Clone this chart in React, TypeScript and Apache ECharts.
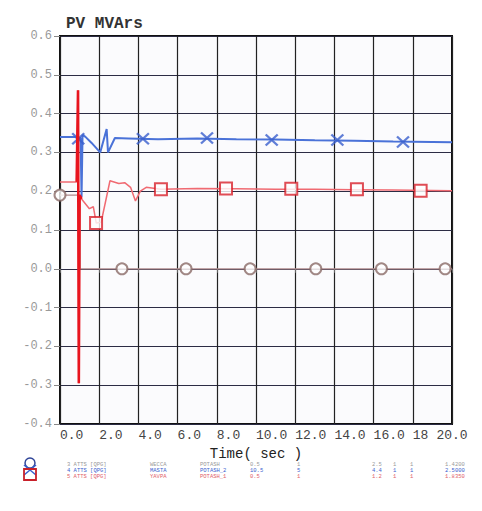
import React, { useEffect, useRef } from "react";
import * as echarts from "echarts";

// ---- data ----
const xTicks = [0, 2, 4, 6, 8, 10, 12, 14, 16, 18, 20];

// channel 1 (circle markers, grey)
const circleLineT = [0, 1.0, 1.03, 20];
const circleLineV = [0.19, 0.19, 0.0, 0.0];
const circleMarkT = [0, 3.16, 6.43, 9.7, 13.05, 16.4, 19.65];
const circleMarkV = [0.19, 0.0, 0.0, 0.0, 0.0, 0.0, 0.0];

// channel 2 (X markers, blue)
const blueT = [0, 0.75, 0.95, 1.05, 1.1, 1.15, 1.3, 1.6, 2.05, 2.38, 2.45, 2.8, 3.5, 5, 7, 9, 11, 13, 15, 17, 20];
const blueV = [0.34, 0.34, 0.335, 0.338, 0.185, 0.345, 0.34, 0.325, 0.3, 0.36, 0.3, 0.337, 0.336, 0.334, 0.336, 0.334, 0.333, 0.331, 0.33, 0.328, 0.326];
const crossMarkT = [0.93, 4.23, 7.5, 10.8, 14.15, 17.5];
const crossMarkV = [0.335, 0.335, 0.337, 0.332, 0.332, 0.327];

// channel 3 (square markers, red)
const redT = [0, 0.85, 0.92, 0.96, 1.0, 1.1, 1.5, 1.7, 1.85, 2.1, 2.55, 3.0, 3.3, 3.6, 3.85, 4.1, 4.4, 5.15, 7, 9, 11, 13, 15, 17, 20];
const redV = [0.224, 0.224, 0.46, -0.295, 0.19, 0.18, 0.155, 0.16, 0.118, 0.12, 0.227, 0.22, 0.222, 0.21, 0.175, 0.2, 0.21, 0.205, 0.207, 0.206, 0.205, 0.205, 0.204, 0.203, 0.201];
const squareMarkT = [1.84, 5.15, 8.47, 11.8, 15.15, 18.4];
const squareMarkV = [0.118, 0.205, 0.207, 0.206, 0.205, 0.201];

const legendRows = [
  ["3 ATTS [QPG]", "WECCA", "POTASH", "0.5", "1", "2.5", "1", "1", "1.4200"],
  ["4 ATTS [QPG]", "MASTA", "POTASH_2", "10.5", "5", "4.4", "1", "1", "2.5000"],
  ["5 ATTS [QPG]", "YAVPA", "POTASH_1", "0.5", "1", "1.2", "1", "1", "1.8350"],
];
const legendColors = ["#9a9a9a", "#3a5fd0", "#e0606a"];

const zip = (t: number[], v: number[]) => t.map((x, i) => [x, v[i]]);

export default function App() {
  const ref = useRef<HTMLDivElement>(null);
  useEffect(() => {
    if (!ref.current) return;
    const chart = echarts.init(ref.current, null, { renderer: "svg" });
    const mono = "Liberation Mono";
    const colX = [67, 150, 200, 250, 297, 372, 393, 410, 445];
    const legendTexts: any[] = [];
    legendRows.forEach((row, r) => {
      row.forEach((s, c) => {
        legendTexts.push({
          type: "text",
          x: colX[c],
          y: 461 + r * 6,
          style: { text: s, fill: legendColors[r], font: `5.5px ${mono}` },
        });
      });
    });
    chart.setOption({
      animation: false,
      backgroundColor: "#ffffff",
      title: {
        text: "PV MVArs",
        left: 61,
        top: 11,
        textStyle: { fontFamily: mono, fontSize: 16, fontWeight: "bold", color: "#333" },
      },
      grid: {
        left: 60,
        right: 30,
        top: 36,
        bottom: 87,
        show: true,
        borderColor: "#111",
        borderWidth: 2,
        backgroundColor: "#fbfbfd",
      },
      xAxis: {
        type: "value",
        min: 0,
        max: 20,
        interval: 2,
        name: "Time( sec )",
        nameLocation: "middle",
        nameGap: 18,
        nameTextStyle: { fontFamily: mono, fontSize: 14, color: "#222" },
        axisLine: { show: false },
        axisTick: { show: true, length: 4, lineStyle: { color: "#666" } },
        splitLine: { show: true, lineStyle: { color: "#222", width: 1.2 } },
        axisLabel: {
          fontFamily: mono,
          fontSize: 13,
          color: "#444",
          margin: 5,
          align: "left",
          alignMaxLabel: "center",
          formatter: (v: number) => (v === 18 ? "18" : v.toFixed(1)),
        },
      },
      yAxis: {
        type: "value",
        min: -0.4,
        max: 0.6,
        interval: 0.1,
        axisLine: { show: false },
        axisTick: { show: true, length: 6, lineStyle: { color: "#888" } },
        splitLine: { show: true, lineStyle: { color: "#2c2c44", width: 1.2 } },
        axisLabel: {
          fontFamily: mono,
          fontSize: 12,
          color: "#999",
          margin: 8,
          formatter: (v: number) => v.toFixed(1),
        },
      },
      series: [
        {
          type: "line",
          data: zip(circleLineT, circleLineV),
          showSymbol: false,
          lineStyle: { color: "#b08a8c", width: 1.3 },
          z: 3,
        },
        {
          type: "scatter",
          data: zip(circleMarkT, circleMarkV),
          symbol: "emptyCircle",
          symbolSize: 11,
          itemStyle: { color: "#8a6a66", borderColor: "#8a6a66", borderWidth: 1.3 },
          z: 4,
        },
        {
          type: "line",
          data: zip(blueT, blueV),
          showSymbol: false,
          lineStyle: { color: "#4a72d8", width: 2 },
          z: 5,
        },
        {
          type: "scatter",
          data: zip(crossMarkT, crossMarkV),
          symbol: "path://M0,0L10,10M10,0L0,10",
          symbolSize: [12, 11],
          itemStyle: { color: "none", borderColor: "#3a5fcd", borderWidth: 2.2 },
          z: 6,
        },
        {
          type: "line",
          data: zip(redT, redV),
          showSymbol: false,
          lineStyle: { color: "#f06a72", width: 1.5 },
          z: 7,
        },
        {
          // the fault spike of channel 3, drawn heavier as in the plot
          type: "line",
          data: zip(redT.slice(1, 6), redV.slice(1, 6)),
          showSymbol: false,
          lineStyle: { color: "#e8141e", width: 2.6 },
          z: 7,
        },
        {
          type: "scatter",
          data: zip(squareMarkT, squareMarkV),
          symbol: "emptyRect",
          symbolSize: 12,
          itemStyle: { color: "#d8202a", borderColor: "#d8202a", borderWidth: 2 },
          z: 8,
        },
      ],
      graphic: [
        {
          type: "circle",
          shape: { cx: 30, cy: 463, r: 5 },
          style: { fill: "none", stroke: "#33489a", lineWidth: 1.5 },
        },
        {
          type: "polyline",
          shape: { points: [[24, 465], [36, 475]] },
          style: { stroke: "#3a5fcd", lineWidth: 1.5 },
        },
        {
          type: "polyline",
          shape: { points: [[36, 465], [24, 475]] },
          style: { stroke: "#3a5fcd", lineWidth: 1.5 },
        },
        {
          type: "rect",
          shape: { x: 24, y: 469, width: 12, height: 11 },
          style: { fill: "none", stroke: "#c8202a", lineWidth: 1.8 },
        },
        ...legendTexts,
      ],
    });
    return () => chart.dispose();
  }, []);
  return (
    <div
      ref={ref}
      style={{ position: "fixed", left: 0, top: 0, width: 482, height: 511, background: "#fff" }}
    />
  );
}
